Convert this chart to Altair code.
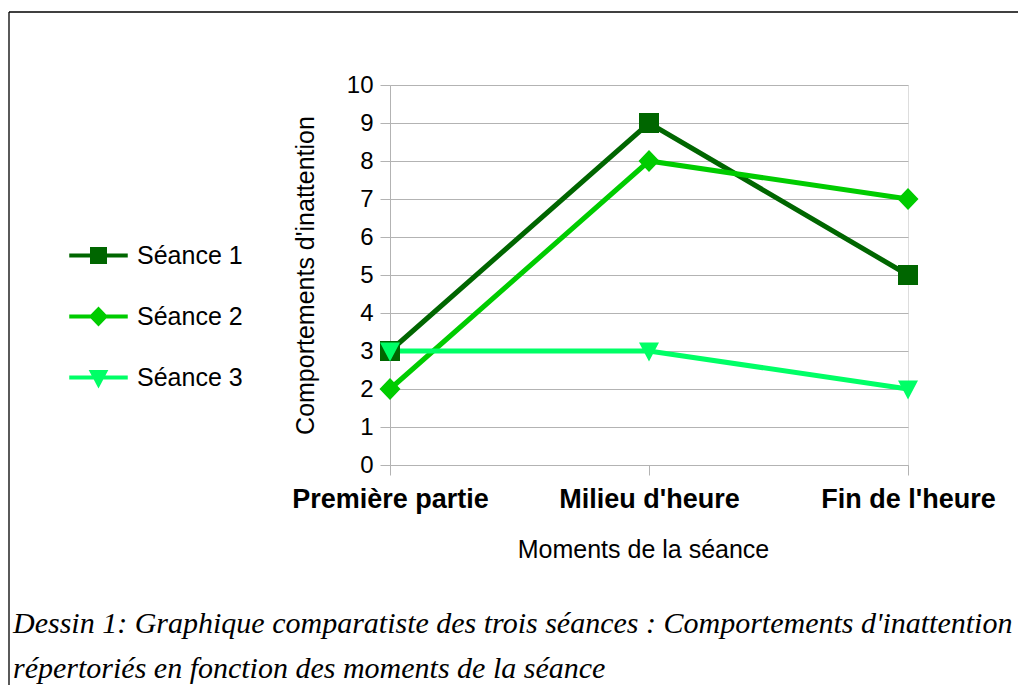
import altair as alt
import pandas as pd

# ---- data ----
moments = ["Première partie", "Milieu d'heure", "Fin de l'heure"]
seance1 = [3, 9, 5]
seance2 = [2, 8, 7]
seance3 = [3, 3, 2]
series_names = ["Séance 1", "Séance 2", "Séance 3"]
colors = ["#006600", "#00cc00", "#00ff66"]
y_ticks = list(range(0, 11))
caption = [
    "Dessin 1: Graphique comparatiste des trois séances : Comportements d'inattention",
    "répertoriés en fonction des moments de la séance",
]

rows = []
for name, vals in zip(series_names, [seance1, seance2, seance3]):
    for m, v in zip(moments, vals):
        rows.append({"moment": m, "valeur": v, "serie": name})
df = pd.DataFrame(rows)

# marker paths (with a horizontal stroke-only segment visible in the legend)
L = 4.5
shapes = [
    f"M-1,-1H1V1H-1Z M-{L},0H{L}",
    f"M-1.05,0L0,-1.1L1.05,0L0,1.1Z M-{L},0H{L}",
    f"M-1,-0.85L1,-0.85L0,1.05Z M-{L},0H{L}",
]

GRAY = "#b3b3b3"
SANS = "Liberation Sans"
W, H = 518, 380
PL, PT = 382, 77

cscale = alt.Scale(domain=series_names, range=colors)
legend = alt.Legend(
    title=None, orient="none", legendX=-304, legendY=158,
    symbolSize=169, symbolStrokeWidth=4,
    labelFont=SANS, labelFontSize=25, labelColor="black",
    labelOffset=26, rowPadding=31,
)

x_enc = alt.X(
    "moment:N", sort=moments,
    scale=alt.Scale(type="point", padding=0),
    axis=alt.Axis(
        title="Moments de la séance", labelAngle=0, grid=False, labelLimit=0,
        labelFont=SANS, labelFontSize=27, labelFontWeight="bold", labelColor="black",
        labelPadding=11, tickSize=10, tickColor=GRAY, domainColor=GRAY,
        titleFont=SANS, titleFontSize=25, titleFontWeight="normal", titleColor="black",
        titlePadding=25, titleX=253,
    ),
)
y_enc = alt.Y(
    "valeur:Q",
    scale=alt.Scale(domain=[0, 10], nice=False, zero=True),
    axis=alt.Axis(
        values=y_ticks, title="Comportements d'inattention",
        labelFont=SANS, labelFontSize=24, labelColor="black", labelPadding=7,
        tickSize=10, tickColor=GRAY, domainColor=GRAY, gridColor=GRAY,
        titleFont=SANS, titleFontSize=25, titleFontWeight="normal", titleColor="black",
        titlePadding=28,
    ),
)

base = alt.Chart(df)
line_layers = [
    base.transform_filter(alt.datum.serie == name)
    .mark_line(color=col, strokeWidth=5)
    .encode(x=x_enc, y=y_enc)
    for name, col in zip(series_names, colors)
]
points = base.mark_point(filled=True, size=400, strokeWidth=0, opacity=1).encode(
    x=x_enc, y=y_enc,
    color=alt.Color("serie:N", scale=cscale, legend=legend),
    stroke=alt.Stroke("serie:N", scale=cscale, legend=legend),
    shape=alt.Shape("serie:N", scale=alt.Scale(domain=series_names, range=shapes), legend=legend),
)

frame_df = pd.DataFrame({"k": [0]})
frame_top = alt.Chart(frame_df).mark_rule(color="black", strokeWidth=1.3).encode(
    x=alt.value(9 - 390), x2=alt.value(1100), y=alt.value(12 - 85)
)
frame_left = alt.Chart(frame_df).mark_rule(color="black", strokeWidth=1.3).encode(
    x=alt.value(9 - 390), y=alt.value(12 - 85), y2=alt.value(700)
)

cap1 = alt.Chart(pd.DataFrame({"t": [caption[0]]})).mark_text(
    align="left", baseline="alphabetic", font="Liberation Serif",
    fontStyle="italic", fontSize=30, color="black",
).encode(text="t:N", x=alt.value(13 - 390), y=alt.value(633 - 85))
cap2 = alt.Chart(pd.DataFrame({"t": [caption[1]]})).mark_text(
    align="left", baseline="alphabetic", font="Liberation Serif",
    fontStyle="italic", fontSize=30, color="black",
).encode(text="t:N", x=alt.value(13 - 390), y=alt.value(678 - 85))

chart = alt.layer(frame_top, frame_left, *line_layers, points, cap1, cap2).properties(
    width=W, height=H,
    autosize=alt.AutoSizeParams(type="none"),
    padding={"left": PL, "top": PT, "right": 110, "bottom": 220},
).configure_view(stroke=GRAY, strokeWidth=1).configure(background="white")

chart.save("out.html", embed_options={"renderer": "svg", "actions": False})
